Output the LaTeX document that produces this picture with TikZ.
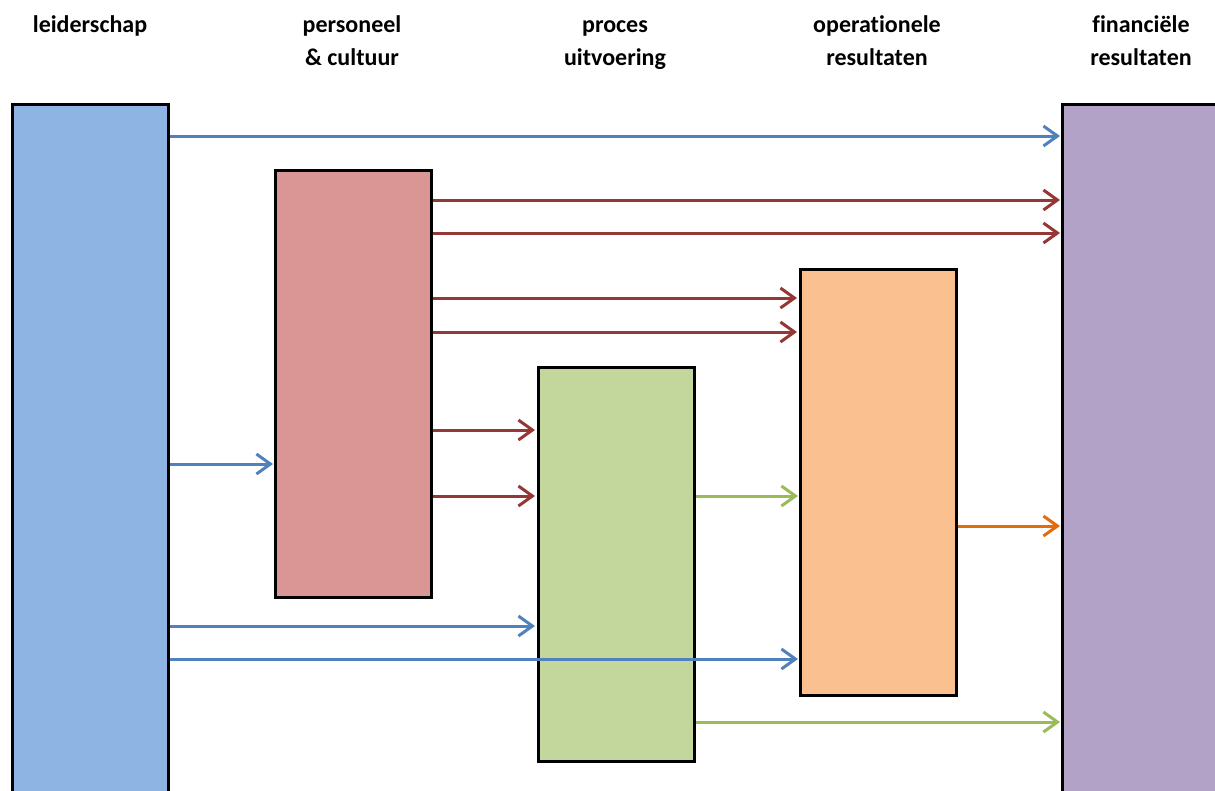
\documentclass[tikz,border=0pt]{standalone}
\usepackage{fontspec}
\setmainfont{Carlito}[Ligatures=NoCommon]
\usetikzlibrary{arrows.meta}
\definecolor{fblue}{HTML}{8EB4E3}
\definecolor{fred}{HTML}{D99694}
\definecolor{fgreen}{HTML}{C3D69B}
\definecolor{forange}{HTML}{FAC090}
\definecolor{fpurple}{HTML}{B3A2C7}
\definecolor{ablue}{HTML}{4F81BD}
\definecolor{ared}{HTML}{953735}
\definecolor{agreen}{HTML}{9BBB59}
\definecolor{aorange}{HTML}{E46C0A}
\tikzset{
  colbox/.style={draw=black, line width=2.5pt, rectangle, inner sep=0pt, anchor=north west, minimum width=156pt},
  lbl/.style={font=\fontsize{24}{33}\selectfont\bfseries, align=center, anchor=base, inner sep=0pt},
  arr/.style={line width=3pt, -{Straight Barb[length=14pt,width=20pt,line width=3pt]}}
}
\begin{document}
\begin{tikzpicture}[x=1pt,y={(0pt,-1pt)}]
\useasboundingbox (0,0) rectangle (1215,790);
% boxes
\node[colbox, fill=fblue, minimum height=710pt] (lead) at (11,103) {};
\node[colbox, fill=fred, minimum height=427pt] (pers) at (274,169) {};
\node[colbox, fill=fgreen, minimum height=394pt] (proc) at (537,366) {};
\node[colbox, fill=forange, minimum height=426pt] (oper) at (799,268) {};
\node[colbox, fill=fpurple, minimum height=710pt, minimum width=180pt] (fin) at (1061,103) {};
% labels
\node[lbl] (t1) at (90,32) {leiderschap};
\node[lbl] (t2) at (352,65) {personeel\\\& cultuur};
\node[lbl] (t3) at (615,65) {proces\\uitvoering};
\node[lbl] (t4) at (877,65) {operationele\\resultaten};
\node[lbl] (t5) at (1141,65) {financiële\\resultaten};
% arrows
\draw[arr, ablue] (lead.east |- 0,136) -- ([xshift=-1pt]fin.west |- 0,136);
\draw[arr, ared] (pers.east |- 0,200) -- ([xshift=-1pt]fin.west |- 0,200);
\draw[arr, ared] (pers.east |- 0,233) -- ([xshift=-1pt]fin.west |- 0,233);
\draw[arr, ared] (pers.east |- 0,298) -- ([xshift=-2pt]oper.west |- 0,298);
\draw[arr, ared] (pers.east |- 0,332) -- ([xshift=-2pt]oper.west |- 0,332);
\draw[arr, ared] (pers.east |- 0,430) -- ([xshift=-2pt]proc.west |- 0,430);
\draw[arr, ared] (pers.east |- 0,496) -- ([xshift=-2pt]proc.west |- 0,496);
\draw[arr, ablue] (lead.east |- 0,464) -- ([xshift=-1pt]pers.west |- 0,464);
\draw[arr, agreen] (proc.east |- 0,496) -- ([xshift=-1pt]oper.west |- 0,496);
\draw[arr, aorange] (oper.east |- 0,526) -- ([xshift=-1pt]fin.west |- 0,526);
\draw[arr, ablue] (lead.east |- 0,626) -- ([xshift=-2pt]proc.west |- 0,626);
\draw[arr, ablue] (lead.east |- 0,659) -- ([xshift=-1pt]oper.west |- 0,659);
\draw[arr, agreen] (proc.east |- 0,722) -- ([xshift=-1pt]fin.west |- 0,722);
\end{tikzpicture}
\end{document}
